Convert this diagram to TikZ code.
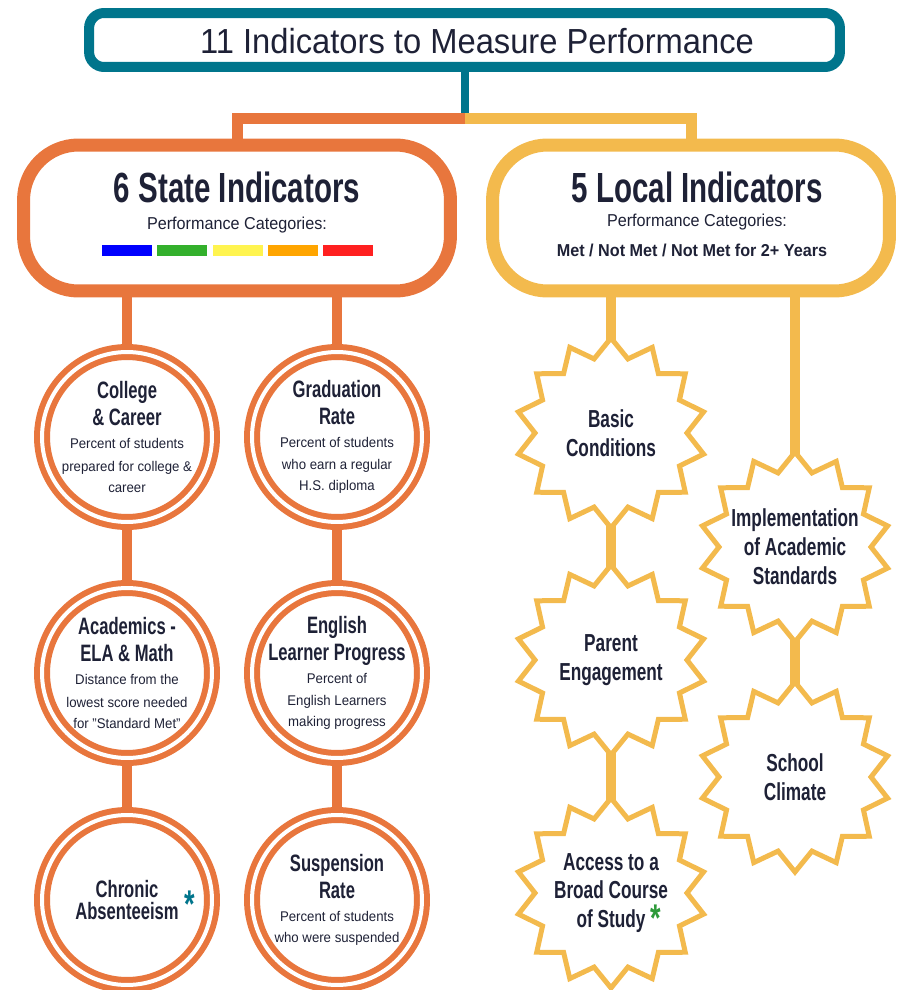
\documentclass[tikz,border=0pt]{standalone}
\usepackage{fontspec}
\setmainfont[FakeStretch=0.94]{Liberation Sans}
\newfontfamily\headfont[FakeStretch=0.70]{Liberation Sans}
\usetikzlibrary{shapes.geometric, backgrounds}

\definecolor{topteal}{HTML}{00758C}
\definecolor{stateorange}{HTML}{E8763D}
\definecolor{localgold}{HTML}{F3BA4D}
\definecolor{inkblue}{HTML}{1E2136}
\definecolor{catblue}{HTML}{0000FF}
\definecolor{catgreen}{HTML}{33B02C}
\definecolor{catyellow}{HTML}{FFF44F}
\definecolor{catorange}{HTML}{FFA500}
\definecolor{catred}{HTML}{FF2020}
\definecolor{stargreen}{HTML}{2E9A3A}

\newcommand\ringhead{\headfont\bfseries\fontsize{13.5}{15.3}\selectfont}
\newcommand\ringbody{\normalfont\fontsize{8}{13}\selectfont}

\tikzset{
  conn/.style={line width=0.2cm},
  topbox/.style={rectangle, draw=topteal, line width=0.2cm, rounded corners=0.3cm,
    fill=white, minimum width=15.02cm, minimum height=1.08cm},
  toptitle/.style={font=\fontsize{19.8}{21}\selectfont, text=inkblue},
  bigbox/.style={rectangle, line width=0.26cm, rounded corners=1.1cm, fill=white,
    minimum height=2.92cm},
  bigtitle/.style={font=\headfont\bfseries\fontsize{24}{26}\selectfont, text=inkblue},
  cattext/.style={font=\fontsize{9.8}{11}\selectfont, text=inkblue},
  ring/.style={circle, draw=stateorange, line width=0.12cm, double=white,
    double distance=0.08cm, fill=white, minimum size=3.4cm, inner sep=0pt},
  ringtext/.style={text width=3.2cm, align=flush center, text=inkblue, inner sep=0pt},
  sunburst/.style={star, star points=14, star point ratio=1.25, draw=localgold,
    line width=0.1cm, fill=white, minimum size=3.8cm, inner sep=0pt},
  startext/.style={font=\headfont\bfseries\fontsize{14}{16.4}\selectfont,
    align=center, text=inkblue},
  starmark/.style={font=\headfont\bfseries\fontsize{22}{22}\selectfont, inner sep=0pt}
}

\begin{document}
\begin{tikzpicture}[x=0.02cm, y=-0.02cm]
  \useasboundingbox (0,0) rectangle (897,990);

  \node [topbox] (top) at (464.5,40) {};
  \node [toptitle] (toptext) at (477,41) {11 Indicators to Measure Performance};
  \coordinate (split) at (464.5,118.5);

  % state side
  \node [bigbox, draw=stateorange, minimum width=8.54cm] (state) at (237,218) {};
  \node [bigtitle] (statetitle) at (237,187) {6 State Indicators};
  \node [cattext] (statecat) at (237,225) {Performance Categories:};
  \foreach \c [count=\i from 0] in {catblue,catgreen,catyellow,catorange,catred}
    \fill [\c] (102+55.3*\i,245) rectangle +(50,11);

  % local side
  \node [bigbox, draw=localgold, minimum width=7.94cm] (local) at (691,218) {};
  \node [bigtitle] (localtitle) at (697,187) {5 Local Indicators};
  \node [cattext] (localcat) at (697,222) {Performance Categories:};
  \node [cattext, font=\bfseries\fontsize{9.8}{11}\selectfont] (localmet) at (692,250)
    {Met / Not Met / Not Met for 2+ Years};

  % state indicators
  \node [ring] (career) at (127,437) {};
  \node [ringtext] (careertext) at (career)
    {\ringhead College\\\& Career\par\ringbody Percent of students\\prepared for college \&\\career};
  \node [ring] (grad) at (337,437) {};
  \node [ringtext] (gradtext) at (grad)
    {\ringhead Graduation\\Rate\par\ringbody Percent of students\\who earn a regular\\H.S. diploma};
  \node [ring] (acad) at (127,673) {};
  \node [ringtext] (acadtext) at (acad)
    {\ringhead Academics -\\ELA \& Math\par\ringbody Distance from the\\lowest score needed\\for "Standard Met"};
  \node [ring] (elp) at (337,673) {};
  \node [ringtext] (elptext) at (elp)
    {\ringhead English\\Learner Progress\par\ringbody Percent of\\English Learners\\making progress};
  \node [ring] (chronic) at (127,900) {};
  \node [ringtext] (chronictext) at (chronic) {\ringhead Chronic\\Absenteeism};
  \node [starmark, text=topteal] (chronicmark) at (190,904) {*};
  \node [ring] (susp) at (337,900) {};
  \node [ringtext] (susptext) at (susp)
    {\ringhead Suspension\\Rate\par\ringbody Percent of students\\who were suspended};

  % local indicators
  \node [sunburst] (basic) at (611,433) {};
  \node [startext] (basictext) at (basic) {Basic\\Conditions};
  \node [sunburst] (parent) at (611,660) {};
  \node [startext] (parenttext) at (parent) {Parent\\Engagement};
  \node [sunburst] (access) at (611,893) {};
  \node [startext] (accesstext) at (access) {Access to a\\Broad Course\\of Study};
  \node [starmark, text=stargreen] (accessmark) at (656,918) {*};
  \node [sunburst] (impl) at (795,547) {};
  \node [startext] (impltext) at (impl) {Implementation\\of Academic\\Standards};
  \node [sunburst] (climate) at (795,777) {};
  \node [startext] (climatetext) at (climate) {School\\Climate};

  % connectors
  \begin{scope}[on background layer]
    \draw [line width=0.16cm, topteal] (top.south) -- (split);
    \draw [line width=0.22cm, stateorange] (split) -| (state.north);
    \draw [line width=0.22cm, localgold] (split) -| (local.north);

    \draw [conn, stateorange] (career.center |- state.south) -- (career.center);
    \draw [conn, stateorange] (grad.center |- state.south) -- (grad.center);
    \draw [conn, stateorange] (career.center) -- (acad.center) -- (chronic.center);
    \draw [conn, stateorange] (grad.center) -- (elp.center) -- (susp.center);

    \draw [conn, localgold] (basic.center |- local.south) -- (basic.center);
    \draw [conn, localgold] (impl.center |- local.south) -- (impl.center);
    \draw [conn, localgold] (basic.center) -- (parent.center) -- (access.center);
    \draw [conn, localgold] (impl.center) -- (climate.center);
  \end{scope}
\end{tikzpicture}
\end{document}
